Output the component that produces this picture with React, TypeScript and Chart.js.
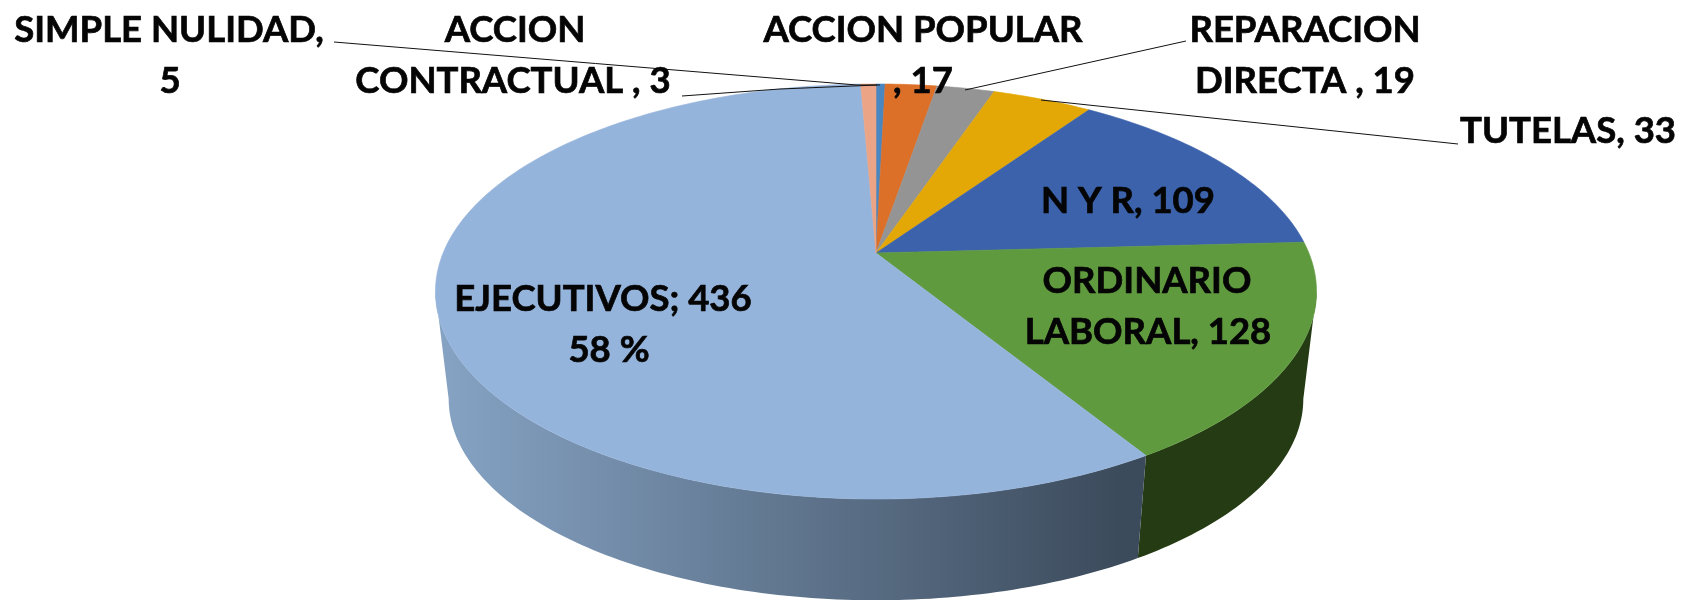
import React, { useEffect, useRef } from "react";
import { Chart, PieController, ArcElement } from "chart.js";

// Data, clockwise from the top of the pie
const categories = ["ACCION CONTRACTUAL", "ACCION POPULAR", "REPARACION DIRECTA", "TUTELAS", "N Y R", "ORDINARIO LABORAL", "EJECUTIVOS", "SIMPLE NULIDAD"];
const values = [3, 17, 19, 33, 109, 128, 436, 5];
const faceColors = ["#4A86BF", "#DC7029", "#949494", "#E3A806", "#3B62AB", "#609A3E", "#95B4DC", "#EBA486"];
const wallColors = ["#2C5070", "#83431A", "#585858", "#876403", "#233A66", "#243B13", "#5E7290", "#8C6250"];

const labelLines = [
  ["ACCION", "CONTRACTUAL , 3"],
  ["ACCION POPULAR", ", 17"],
  ["REPARACION", "DIRECTA , 19"],
  ["TUTELAS, 33"],
  ["N Y R, 109"],
  ["ORDINARIO", "LABORAL, 128"],
  ["EJECUTIVOS; 436", "58 %"],
  ["SIMPLE NULIDAD,", "5"],
];

// Layout of the labels: [x, cap-centre y] of each text line
const labelPos = [
  [[515, 28.5], [513, 80]],
  [[923, 28.5], [923, 80]],
  [[1305, 28.5], [1305, 80]],
  [[1568, 130]],
  [[1128, 200]],
  [[1147, 279.5], [1148, 330.5]],
  [[603, 297.5], [609, 348.5]],
  [[169, 28.5], [170, 80]],
];
const leaders = [
  [[682, 96], [780, 89], [877, 85]],
  [[334, 42], [857, 85], [880, 85]],
  [[965, 90], [1186, 41]],
  [[1041, 100], [1458, 144]],
];
const FONT_SIZE = 36.5;
const CAP_RATIO = 0.72;

// Perspective of the tilted disc
const SX = 1.711;
const SY = 0.792;
const K = 0.1855;
const WALL_SCALE = 0.97;
const VX = 875.5;
const VY = 3875;
const SIDE_ANGLE = Math.asin(K);

type Pt = [number, number];
function project(el: any, a: number): Pt {
  const c = Math.cos(a), s = Math.sin(a), w = 1 - K * s, R = el.outerRadius;
  return [el.x + (SX * R * c) / w, el.y + (SY * R * s) / w];
}
function lower(p: Pt): Pt {
  return [VX + (p[0] - VX) * WALL_SCALE, VY + (p[1] - VY) * WALL_SCALE];
}

class Arc3D extends ArcElement {
  static id = "arc3d";
  draw(ctx: CanvasRenderingContext2D) {
    const el: any = this;
    const color = el.options.backgroundColor;
    ctx.save();
    ctx.beginPath();
    ctx.moveTo(el.x, el.y);
    const n = Math.max(4, Math.ceil((el.endAngle - el.startAngle) * 60));
    for (let i = 0; i <= n; i++) {
      const p = project(el, el.startAngle + ((el.endAngle - el.startAngle) * i) / n);
      ctx.lineTo(p[0], p[1]);
    }
    ctx.closePath();
    ctx.fillStyle = color;
    ctx.fill();
    ctx.strokeStyle = color;
    ctx.lineWidth = 0.6;
    ctx.stroke();
    ctx.restore();
  }
}

class Pie3D extends PieController {
  static id = "pie3d";
  static defaults = { dataElementType: "arc3d" };
}

const wallPlugin = {
  id: "wall",
  beforeDatasetsDraw(chart: any) {
    const { ctx } = chart;
    const arcs = chart.getDatasetMeta(0).data;
    arcs.forEach((el: any, idx: number) => {
      const a0 = Math.max(el.startAngle, SIDE_ANGLE);
      const a1 = Math.min(el.endAngle, Math.PI - SIDE_ANGLE);
      if (a1 <= a0) return;
      const top: Pt[] = [];
      const n = Math.ceil((a1 - a0) * 60);
      for (let i = 0; i <= n; i++) top.push(project(el, a0 + ((a1 - a0) * i) / n));
      ctx.save();
      ctx.beginPath();
      top.forEach((p, i) => (i ? ctx.lineTo(p[0], p[1]) : ctx.moveTo(p[0], p[1])));
      top.slice().reverse().forEach((p) => {
        const q = lower(p);
        ctx.lineTo(q[0], q[1]);
      });
      ctx.closePath();
      if (categories[idx] === "EJECUTIVOS") {
        const g = ctx.createLinearGradient(440, 0, 1120, 0);
        g.addColorStop(0, "#86A3C4");
        g.addColorStop(1, "#3C4B5C");
        ctx.fillStyle = g;
      } else {
        ctx.fillStyle = wallColors[idx];
      }
      ctx.fill();
      ctx.restore();
    });
  },
};

const labelPlugin = {
  id: "labels3d",
  afterDraw(chart: any) {
    const { ctx } = chart;
    ctx.save();
    ctx.strokeStyle = "#111111";
    ctx.lineWidth = 1;
    leaders.forEach((pts) => {
      ctx.beginPath();
      pts.forEach((p, i) => (i ? ctx.lineTo(p[0], p[1]) : ctx.moveTo(p[0], p[1])));
      ctx.stroke();
    });
    ctx.fillStyle = "#050505";
    ctx.strokeStyle = "#050505";
    ctx.lineWidth = 0.7;
    ctx.font = `bold ${FONT_SIZE}px Lato`;
    ctx.textAlign = "center";
    ctx.textBaseline = "alphabetic";
    labelLines.forEach((lines, i) => {
      lines.forEach((t, j) => {
        const p = labelPos[i][j];
        const y = p[1] + (FONT_SIZE * CAP_RATIO) / 2;
        ctx.fillText(t, p[0], y);
        ctx.strokeText(t, p[0], y);
      });
    });
    ctx.restore();
  },
};

Chart.register(PieController, ArcElement, Arc3D, Pie3D);

export default function App() {
  const ref = useRef<HTMLCanvasElement>(null);
  useEffect(() => {
    const chart = new Chart(ref.current!, {
      type: "pie3d" as any,
      data: {
        labels: categories,
        datasets: [{ data: values, backgroundColor: faceColors, borderWidth: 0 }],
      },
      options: {
        responsive: false,
        animation: false,
        events: [],
        layout: { padding: { left: 69, right: 0, top: 0, bottom: 94 } },
        plugins: { legend: { display: false }, tooltip: { enabled: false } },
      } as any,
      plugins: [wallPlugin, labelPlugin],
    });
    return () => chart.destroy();
  }, []);
  return (
    <div style={{ position: "fixed", left: 0, top: 0, width: 1683, height: 600, background: "#fff" }}>
      <canvas ref={ref} width={1683} height={600} style={{ display: "block" }} />
    </div>
  );
}
